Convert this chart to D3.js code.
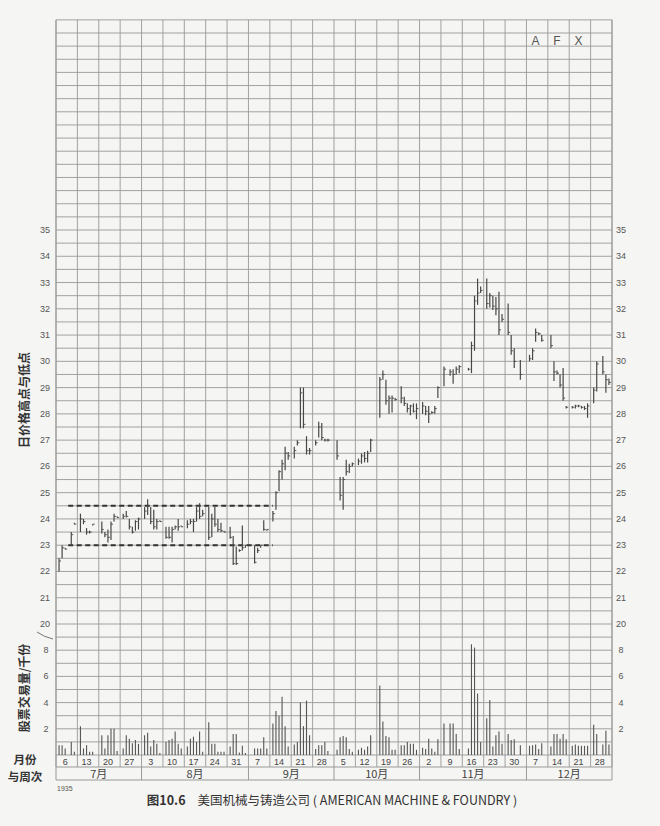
<!DOCTYPE html>
<html><head><meta charset="utf-8">
<script src="https://cdn.jsdelivr.net/npm/d3@7"></script>
<style>body{margin:0;background:#f5f5f3;}svg{display:block;}</style>
</head><body>
<svg id="c" width="660" height="826"></svg>
<script>
// ---- data ----
const year = 1935;
const days = [
"07-01","07-02","07-03","07-05","07-06",
"07-08","07-09","07-10","07-11","07-12",
"07-15","07-16","07-17","07-18","07-19","07-20",
"07-22","07-23","07-24","07-25","07-26","07-27",
"07-29","07-30","07-31","08-01","08-02","08-03",
"08-05","08-06","08-07","08-08","08-09","08-10",
"08-12","08-13","08-14","08-15","08-16","08-17",
"08-19","08-20","08-21","08-22","08-23","08-24",
"08-26","08-27","08-28","08-29","08-30","08-31",
"09-03","09-04","09-05","09-06","09-07",
"09-09","09-10","09-11","09-12","09-13","09-14",
"09-16","09-17","09-18","09-19","09-20","09-21",
"09-23","09-24","09-25","09-26","09-27",
"09-30","10-01","10-02","10-03","10-04","10-05",
"10-07","10-08","10-09","10-10","10-11",
"10-14","10-15","10-16","10-17","10-18","10-19",
"10-21","10-22","10-23","10-24","10-25","10-26",
"10-28","10-29","10-30","10-31","11-01","11-02",
"11-04","11-06","11-07","11-08","11-09",
"11-12","11-13","11-14","11-15","11-16",
"11-18","11-19","11-20","11-21","11-22","11-23",
"11-25","11-26","11-27","11-29",
"12-02","12-03","12-04","12-05","12-06",
"12-09","12-10","12-11","12-12","12-13","12-14",
"12-16","12-17","12-18","12-19","12-20","12-21",
"12-23","12-24","12-26","12-27","12-28"];
const highs = [
22.5,23.0,22.9,23.5,23.85,
24.2,24.0,23.65,23.55,23.8,
23.9,23.5,23.6,23.9,24.2,24.1,
24.2,24.3,24.0,23.7,23.95,24.05,
24.45,24.75,24.45,24.35,24.0,23.95,
23.7,23.7,23.7,23.75,24.0,23.75,
23.95,24.0,24.0,24.45,24.6,24.35,
24.45,24.2,24.45,24.0,23.85,23.55,
23.7,23.35,22.95,22.85,23.75,23.0,
23.0,22.9,23.0,23.95,23.6,
24.3,25.05,25.85,26.25,26.75,26.55,
26.75,27.0,29.0,29.0,27.15,26.7,
27.0,27.7,27.65,27.05,27.05,
27.0,25.6,25.6,26.25,26.1,26.15,
26.3,26.5,26.55,26.6,27.05,
29.4,29.65,29.3,28.7,28.7,28.6,
29.05,28.65,28.4,28.35,28.4,28.4,
28.45,28.3,28.3,28.1,28.3,29.05,
29.8,29.7,29.7,29.8,29.85,
29.75,30.75,32.5,33.15,32.85,
33.15,32.6,32.5,32.45,32.65,31.8,
32.2,31.0,30.5,30.05,
30.25,30.5,31.25,31.1,31.0,
31.0,30.0,29.65,29.5,29.75,28.3,
28.3,28.35,28.35,28.3,28.3,28.4,
29.0,30.0,30.2,29.5,29.35];
const lows = [
22.0,22.5,22.85,23.0,23.8,
23.5,23.8,23.4,23.45,23.75,
23.45,23.3,23.1,23.2,23.9,24.05,
24.0,24.05,23.6,23.45,23.55,23.6,
24.0,24.15,23.8,23.6,23.6,23.9,
23.25,23.25,23.1,23.6,23.55,23.7,
23.65,23.8,23.5,23.9,24.0,24.1,
23.2,23.3,23.7,23.5,23.5,23.5,
23.25,22.25,22.25,22.75,22.8,22.9,
22.3,22.7,22.9,23.55,23.55,
23.9,24.35,25.05,25.5,25.85,26.25,
26.3,26.8,27.45,27.45,26.45,26.45,
26.8,27.1,27.0,26.95,26.95,
26.25,24.7,24.35,25.65,25.75,26.0,
26.05,26.1,26.15,26.15,26.55,
27.85,29.3,28.35,28.0,28.05,28.5,
28.4,28.3,28.05,27.95,28.05,27.8,
28.0,27.95,27.65,28.0,28.0,28.6,
29.05,29.45,29.15,29.5,29.55,
29.65,29.55,30.4,32.15,32.6,
32.0,32.05,31.95,31.75,31.0,31.5,
31.0,30.25,29.75,29.3,
30.0,30.05,30.75,31.0,30.75,
30.5,29.25,29.5,29.0,28.5,28.2,
28.2,28.2,28.25,28.2,28.15,27.85,
28.4,28.85,29.5,28.8,29.1];
const closes = [
22.4,22.9,22.85,23.4,23.8,
24.0,23.9,23.5,23.5,23.8,
23.6,23.4,23.3,23.8,24.1,24.05,
24.1,24.1,23.7,23.5,23.9,24.0,
24.3,24.5,23.9,23.7,23.9,23.9,
23.3,23.3,23.6,23.7,23.7,23.7,
23.8,23.9,23.9,24.3,24.1,24.2,
23.3,24.0,23.8,23.6,23.55,23.5,
23.3,22.3,22.3,22.8,22.9,23.0,
22.35,22.8,23.0,23.6,23.6,
24.2,25.0,25.8,26.1,26.5,26.4,
26.6,26.9,28.8,27.6,26.6,26.6,
26.9,27.5,27.1,27.0,27.0,
26.4,24.9,25.5,25.8,26.0,26.1,
26.2,26.4,26.3,26.5,27.0,
29.3,29.5,28.5,28.6,28.6,28.55,
28.6,28.4,28.2,28.3,28.1,28.2,
28.3,28.1,28.0,28.05,28.2,29.0,
29.7,29.6,29.5,29.7,29.8,
29.7,30.6,32.3,32.6,32.7,
32.2,32.5,32.1,32.0,31.2,31.6,
31.1,30.4,30.0,29.5,
30.1,30.4,31.1,31.05,30.8,
30.6,29.6,29.55,29.1,28.6,28.25,
28.25,28.3,28.3,28.25,28.2,28.3,
28.9,29.9,29.6,29.3,29.2];
const volumes = [
0.75,0.75,0.5,1.0,0.25,
2.2,0.5,0.75,0.25,0.25,
1.5,0.5,1.5,2.0,2.0,0.3,
0.5,1.5,1.25,0.9,1.15,0.85,
1.5,1.7,0.65,1.15,0.85,0.15,
1.0,1.15,1.25,1.8,0.85,0.5,
0.65,1.25,1.4,1.0,1.8,0.25,
2.5,0.85,0.85,0.25,0.25,0.25,
0.65,1.6,1.6,0.2,0.7,0.15,
0.5,0.5,0.5,1.35,0.5,
2.4,3.35,3.0,4.45,2.2,0.65,
0.8,1.0,4.0,2.2,4.15,1.5,
0.45,0.75,0.75,1.0,0.3,
0.4,1.35,1.45,1.35,0.45,0.25,
0.4,0.55,0.4,0.65,1.5,
5.3,2.55,1.45,1.35,0.4,0.4,
0.75,0.75,1.0,0.85,0.85,0.4,
0.55,0.45,1.25,0.5,0.25,1.2,
2.4,2.4,2.4,1.6,0.45,
0.5,8.45,8.2,4.7,1.0,
2.8,4.2,0.65,1.5,1.8,0.85,
1.6,1.15,1.2,0.75,
0.7,0.75,0.8,0.45,0.9,
0.65,1.6,1.6,1.25,1.6,1.2,
0.7,0.8,0.7,0.7,0.7,0.7,
2.3,1.6,0.8,1.85,0.8];
const weekLabels = ["6","13","20","27","3","10","17","24","31","7","14","21","28","5","12","19","26","2","9","16","23","30","7","14","21","28"];
const months = ["7月","8月","9月","10月","11月","12月"];
const monthWeeks = [4,5,4,4,5,4];
const priceTicks = [20,21,22,23,24,25,26,27,28,29,30,31,32,33,34,35];
const volTicks = [2,4,6,8];
const supportResistance = [24.5, 23.0];
const lineSpan = ["07-04","09-09"];
const symbolLetters = ["A","F","X"];
const symbolWeek = 22;

// ---- scales ----
const parse = s => d3.timeParse("%Y-%m-%d")(year + "-" + s);
const start = new Date(year,5,30), end = new Date(year,11,29);
const x = d3.scaleTime().domain([start,end]).range([56,612]);
const yP = d3.scaleLinear().domain([20,35]).range([624,230]);
const yV = d3.scaleLinear().domain([0,10]).range([755,624]);
const weekStarts = d3.timeWeek.range(start, d3.timeDay.offset(end,1));

const svg = d3.select("#c");
const gridC = "#999";
const num = "'Liberation Sans', Arial, sans-serif";
const cjk = "'Noto Sans CJK SC', sans-serif";

// horizontal grid: price part every half point, volume part every 1
const hp = d3.range(20, 43.01, 0.5);
svg.append("g").selectAll("line").data(hp).join("line")
  .attr("x1",56).attr("x2",612).attr("y1",d=>yP(d)).attr("y2",d=>yP(d))
  .attr("stroke",gridC).attr("stroke-width",0.9);
svg.append("g").selectAll("line").data(d3.range(0,10,1)).join("line")
  .attr("x1",56).attr("x2",612).attr("y1",d=>yV(d)).attr("y2",d=>yV(d))
  .attr("stroke",gridC).attr("stroke-width",0.9);
// vertical grid
svg.append("g").selectAll("line").data(weekStarts).join("line")
  .attr("x1",d=>x(d)).attr("x2",d=>x(d)).attr("y1",yP(43)).attr("y2",767)
  .attr("stroke",gridC).attr("stroke-width",0.9);
svg.append("line").attr("x1",612).attr("x2",612).attr("y1",yP(43)).attr("y2",780).attr("stroke",gridC);
svg.append("line").attr("x1",56).attr("x2",56).attr("y1",yP(43)).attr("y2",780).attr("stroke",gridC);
// bottom rows
svg.append("line").attr("x1",56).attr("x2",612).attr("y1",767).attr("y2",767).attr("stroke",gridC);
svg.append("line").attr("x1",56).attr("x2",612).attr("y1",780).attr("y2",780).attr("stroke",gridC);
svg.append("g").selectAll("text").data(weekStarts).join("text")
  .attr("x",d=>x(d3.timeDay.offset(d,3.5))).attr("y",764.5)
  .attr("text-anchor","middle").attr("font-family",num).attr("font-size",9).attr("fill","#444")
  .text((d,i)=>weekLabels[i]);
const cum = d3.cumsum(monthWeeks);
const mBounds = [0, ...cum];
svg.append("g").selectAll("line").data(mBounds.slice(1,-1)).join("line")
  .attr("x1",d=>x(weekStarts[d])).attr("x2",d=>x(weekStarts[d])).attr("y1",767).attr("y2",780)
  .attr("stroke",gridC);
svg.append("g").selectAll("text").data(months).join("text")
  .attr("x",(d,i)=>(x(weekStarts[mBounds[i]]) + x(mBounds[i+1]<weekStarts.length?weekStarts[mBounds[i+1]]:end))/2)
  .attr("y",778).attr("text-anchor","middle").attr("font-family",cjk).attr("font-size",11).attr("fill","#444")
  .text(d=>d);

// axis labels
const lab = svg.append("g").attr("font-family",num).attr("font-size",9).attr("fill","#555").attr("text-anchor","middle");
priceTicks.forEach(t=>{
  lab.append("text").attr("x",45).attr("y",yP(t)+3).text(t);
  lab.append("text").attr("x",621).attr("y",yP(t)+3).text(t);
});
volTicks.forEach(t=>{
  lab.append("text").attr("x",46).attr("y",yV(t)+3).text(t);
  lab.append("text").attr("x",621).attr("y",yV(t)+3).text(t);
});

// symbol
svg.append("g").selectAll("text").data(symbolLetters).join("text")
  .attr("x",(d,i)=>x(d3.timeDay.offset(weekStarts[symbolWeek+i],3.5))).attr("y",45)
  .attr("text-anchor","middle").attr("font-family",num).attr("font-size",12).attr("fill","#555").text(d=>d);

// dashed lines
svg.append("g").selectAll("line").data(supportResistance).join("line")
  .attr("x1",x(parse(lineSpan[0]))).attr("x2",x(parse(lineSpan[1])))
  .attr("y1",d=>yP(d)).attr("y2",d=>yP(d))
  .attr("stroke","#333").attr("stroke-width",2).attr("stroke-dasharray","5,3.5");

// data
const data = days.map((d,i)=>({date:parse(d),h:highs[i],l:lows[i],c:closes[i],v:volumes[i]}));
const bars = svg.append("g").attr("stroke","#484848").attr("stroke-width",1.2);
bars.selectAll("line.hl").data(data).join("line").attr("class","hl")
  .attr("x1",d=>x(d.date)).attr("x2",d=>x(d.date))
  .attr("y1",d=>yP(d.h)).attr("y2",d=>Math.max(yP(d.l), yP(d.h)+1.3));
bars.selectAll("line.cl").data(data).join("line").attr("class","cl")
  .attr("x1",d=>x(d.date)).attr("x2",d=>x(d.date)+2)
  .attr("y1",d=>yP(d.c)).attr("y2",d=>yP(d.c)).attr("stroke-width",0.9);
svg.append("g").attr("stroke","#555").attr("stroke-width",1.1)
  .selectAll("line").data(data).join("line")
  .attr("x1",d=>x(d.date)).attr("x2",d=>x(d.date))
  .attr("y1",yV(0)).attr("y2",d=>yV(d.v));

// titles
svg.append("text").attr("transform","translate(29,400) rotate(-90)").attr("text-anchor","middle")
  .attr("font-family",cjk).attr("font-size",12).attr("font-weight","bold").attr("fill","#333").text("日价格高点与低点");
svg.append("text").attr("transform","translate(29,688) rotate(-90)").attr("text-anchor","middle")
  .attr("font-family",cjk).attr("font-size",12).attr("font-weight","bold").attr("fill","#333").text("股票交易量/千份");
svg.append("path").attr("d","M37,632 Q44,637 53,639").attr("fill","none").attr("stroke","#555").attr("stroke-width",0.8);
svg.append("text").attr("x",25).attr("y",764).attr("text-anchor","middle")
  .attr("font-family",cjk).attr("font-size",11.5).attr("font-weight","bold").attr("fill","#333").text("月份");
svg.append("text").attr("x",25).attr("y",781).attr("text-anchor","middle")
  .attr("font-family",cjk).attr("font-size",11.5).attr("font-weight","bold").attr("fill","#333").text("与周次");
svg.append("text").attr("x",57).attr("y",791).attr("font-family",num).attr("font-size",7).attr("fill","#555").text(year);
const cap = svg.append("text").attr("x",332).attr("y",805).attr("text-anchor","middle")
  .attr("font-family",cjk).attr("font-size",12.5).attr("fill","#333");
cap.append("tspan").attr("font-weight","bold").text("图10.6");
cap.append("tspan").attr("dx",12).text("美国机械与铸造公司 ( AMERICAN MACHINE & FOUNDRY )");
</script>
</body></html>
